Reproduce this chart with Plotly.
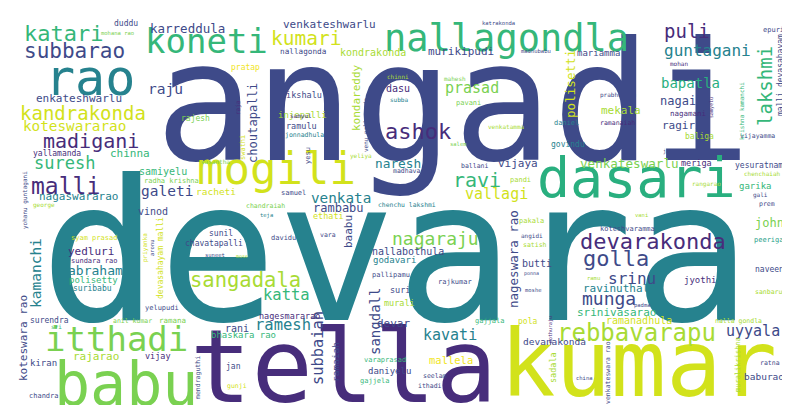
import plotly.graph_objects as go

# word cloud of names: each word and its weight (weight ~ font size in px)
words = ["angadi", "devara", "tella", "kumar", "babu", "itthadi", "rao", "dasari", "mogili",
         "nallagondla", "koneti", "rebbavarapu", "devarakonda", "golla", "munga", "katari",
         "subbarao", "kumari", "kandrakonda", "madigani", "malli", "suresh", "ashok", "puli",
         "guntagani", "lakshmi", "prasad", "bapatla", "ravi", "vallagi", "nagaraju", "sangadala",
         "katta", "ramesh", "kavati", "uyyala", "srinu", "koteswararao", "galeti",
         "venkata", "abraham", "raju", "subbaiah", "sangdall", "kamanchi", "venkateswarlu",
         "nageswara rao", "polisetti", "choutapalli", "naresh", "karreddula", "murikipudi",
         "nagaiah", "mekala", "ragiri", "vijaya", "ravinuthala", "srinivasarao", "ramanadhula",
         "yedluri", "rajarao", "mallela", "devar", "nallabothula", "rambabu", "koteswara rao",
         "venkateshwarlu", "enkateshwarlu", "kondareddy", "kondrakonda", "chinna", "nagaswararao",
         "baabu", "john", "samiyelu", "racheti", "butti", "vinod", "dasu", "devanakonda",
         "ramaiah", "baburao", "mariamma", "garika", "daniyelu", "godavari", "kiran", "polisetty",
         "injepalli", "rani", "bhaskara rao", "meriga", "ramulu", "bikshalu", "nagesmararao",
         "vijay", "suri", "murali", "jyothi", "baliga", "suribabu", "surendra", "nallagonda",
         "pratap", "duddu", "sunil", "chavatapalli", "govindu", "jan", "naveen", "yesuratnam",
         "ethati", "malli devasahayam", "devasahayam malli", "pola", "sadala", "rajesh", "ramana",
         "epuri", "nagamani", "yallamanda", "syam prasad", "radha krishna", "samuel", "daniel",
         "rajkumar", "pallipamu", "koteshvaramma", "varaprasad", "gajjela", "gajjala", "davidu",
         "ballani", "chandra", "yelupudi", "muralikrishna", "swathi", "yesu", "peeriga", "pakala",
         "jonnadhula", "sundara rao", "anil kumar", "chenchu lakshmi", "madhavarao", "satish",
         "vara", "ithadi", "seelam", "ratna", "gunji", "mendraguthi", "venkateswara rao",
         "pandi", "vijayamma", "ramanaiah", "chandraiah", "prabhudasu", "venkatamma", "sanbaru",
         "prem", "chenchaiah", "mohana rao", "nalla gondla", "pavani", "mahesh", "yeliya",
         "vasantha", "venu nallagonda", "samyul", "rangarao", "krishna kamanchi", "yohanu guntagani",
         "priyanka", "angidi", "katrakonda", "madhubabu", "mohan", "jayarao", "salem", "gali",
         "subba", "chinni", "raja", "aronu", "suneet", "mose", "teja", "ramu", "vani", "padma",
         "moshe", "ponna", "china", "pothuraju", "samyelu", "sri", "george"]
freq = [165, 197, 102, 92, 60, 34, 50, 55, 44,
        37, 34, 24, 22, 22, 18, 22,
        21, 19.5, 19, 20, 23, 17, 22, 19,
        16, 19, 15, 14, 20, 15, 18, 20.5,
        15.5, 15.5, 15, 15, 16, 14.3, 14.5,
        14.3, 13, 14.6, 15.4, 14, 14.5, 12.6,
        12.5, 12.6, 12.1, 12.8, 12.5, 11,
        12, 11, 11, 11, 11, 11, 10,
        11, 11, 10.5, 11, 10, 12, 11,
        11, 11, 11, 10, 11, 11,
        11, 12, 10, 9.5, 10, 10, 10, 9.5,
        9.5, 9.5, 9, 9, 9, 9, 9, 9,
        9, 10, 9, 8.5, 8.5, 8.5, 8.5,
        8.5, 8.5, 8.5, 9, 8, 8, 8, 7.7,
        8, 8, 8, 8, 8, 8, 8, 8,
        8.5, 8, 8, 8, 8.5, 8, 7.5,
        7, 7.5, 8, 7, 7, 7, 7,
        7, 7, 7, 7, 7, 7, 7,
        6.5, 7, 7, 7, 7, 7, 7, 7,
        6.5, 7, 6.5, 6.4, 6.5, 6.5,
        6.5, 6.5, 6.5, 6.5, 6.5, 6.5, 6.5,
        7, 6.5, 6.5, 6.5, 6, 6, 6.5,
        6.5, 6, 5.5, 6.5, 7, 6, 6,
        6, 6, 6, 6, 6, 6,
        6, 6, 5.5, 5.5, 6, 5.5, 5.5, 6,
        6, 6, 6, 5.5, 5.5, 5, 5.5, 5.5, 5.5, 5.5,
        5.5, 5, 5.5, 5, 5, 6, 6]

# placement of each word (pixel centre) in the same order as words
x_pos = [445, 388, 335, 630, 118, 108, 82, 628, 268,
         498, 198, 628, 645, 608, 601, 55,
         66, 298, 75, 83, 57, 56, 410, 679,
         699, 757, 464, 682, 469, 488, 427, 237,
         278, 275, 442, 745, 624, 66, 159,
         333, 87, 157, 310, 367, 28, 621,
         505, 562, 245, 390, 179, 453,
         677, 613, 674, 510, 611, 608, 631,
         83, 88, 443, 385, 400, 330, 15,
         321, 71, 348, 365, 122, 70,
         340, 761, 155, 208, 529, 145, 390, 546,
         327, 756, 590, 747, 381, 386, 35, 85,
         294, 229, 235, 688, 293, 293, 281,
         150, 392, 391, 692, 691, 84, 41, 295,
         237, 118, 213, 206, 560, 225, 761, 751,
         320, 772, 152, 519, 545, 187, 164,
         765, 680, 49, 86, 163, 285, 558,
         447, 383, 619, 377, 367, 482, 275,
         466, 36, 154, 730, 235, 300, 761, 523,
         296, 86, 124, 399, 404, 527,
         320, 422, 427, 762, 229, 190, 600,
         512, 749, 609, 257, 610, 498, 760,
         759, 754, 109, 730, 460, 447, 353,
         207, 358, 293, 698, 733, 17,
         137, 524, 490, 528, 671, 666, 450, 752,
         391, 390, 230, 144, 207, 234, 258, 585, 633, 634,
         525, 523, 576, 542, 703, 48, 36]
y_pos = [95, 243, 358, 356, 376, 331, 70, 170, 160,
         30, 33, 325, 233, 250, 290, 25,
         43, 30, 105, 133, 178, 155, 123, 23,
         42, 78, 80, 75, 172, 186, 230, 272,
         287, 317, 327, 323, 270, 118, 183,
         190, 262, 80, 340, 314, 265, 155,
         251, 76, 115, 155, 20, 43,
         93, 102, 117, 155, 280, 304, 312,
         243, 348, 352, 315, 243, 200, 330,
         16, 90, 90, 44, 145, 188,
         224, 215, 163, 183, 255, 203, 80, 333,
         354, 368, 45, 178, 363, 252, 355, 272,
         107, 320, 327, 155, 118, 87, 308,
         348, 282, 295, 272, 128, 280, 312, 43,
         59, 15, 225, 235, 136, 358, 261, 157,
         208, 67, 250, 313, 360, 110, 312,
         22, 105, 145, 230, 173, 185, 115,
         274, 267, 221, 352, 373, 313, 230,
         158, 388, 300, 357, 140, 148, 232, 213,
         127, 253, 313, 197, 163, 237,
         227, 378, 368, 355, 378, 370, 365,
         172, 128, 115, 198, 87, 118, 284,
         196, 165, 25, 313, 95, 70, 148,
         153, 117, 108, 176, 103, 192,
         240, 228, 15, 43, 55, 143, 136, 187,
         91, 68, 100, 240, 247, 248, 207, 270, 207, 297,
         282, 265, 370, 322, 100, 318, 197]
vertical = {"lakshmi", "subbaiah", "sangdall", "kamanchi", "nageswara rao", "polisetti",
            "choutapalli", "koteswara rao", "kondareddy", "baabu", "ramaiah",
            "malli devasahayam", "devasahayam malli", "sadala", "muralikrishna", "swathi",
            "yesu", "mendraguthi", "venkateswara rao", "venu nallagonda", "krishna kamanchi",
            "yohanu guntagani", "priyanka", "raja", "aronu", "pothuraju", "samyelu"}

viridis = {"P": "#440154", "p": "#472d7b", "b": "#3e4a89", "s": "#31688e", "t": "#26828e",
           "c": "#1f9e89", "G": "#29af7f", "g": "#35b779", "l": "#7ad151", "y": "#a8db34",
           "k": "#d2e21b", "Y": "#f1e51d"}
color_codes = ("btpklltGk" "ggypbbg" "bkkppgpp" "tglGgkly" "gttbbkb" "ttbbbtl" "bkbtbb"
               "bybbtgk" "pyYbbbb" "bbyygt" "blgkbbpb" "bbbgbtbg" "ybgpbbp" "pbypytbb"
               "YbbbtbbB" "kbkkyll" "bppklbt" "bbbgggb" "bbbykbcy" "tpltby" "bbbbkbb"
               "ybplbyy" "bylylly" "lbpygb" "kbbbpblb" "typbbytyyb" "bbbppgy")

ann = []
for i, w in enumerate(words):
    code = color_codes[i] if color_codes[i] in viridis else "b"
    ann.append(dict(x=x_pos[i], y=y_pos[i], xref="x", yref="y", text=w, showarrow=False,
                    textangle=-90 if w in vertical else 0,
                    font=dict(family="DejaVu Sans Mono", size=freq[i], color=viridis[code]),
                    xanchor="center", yanchor="middle"))

fig = go.Figure()
fig.update_layout(width=790, height=405, margin=dict(l=0, r=0, t=0, b=0),
                  paper_bgcolor="white", plot_bgcolor="white", annotations=ann,
                  xaxis=dict(range=[0, 790], visible=False),
                  yaxis=dict(range=[405, 0], visible=False))
fig.write_html("out.html")
